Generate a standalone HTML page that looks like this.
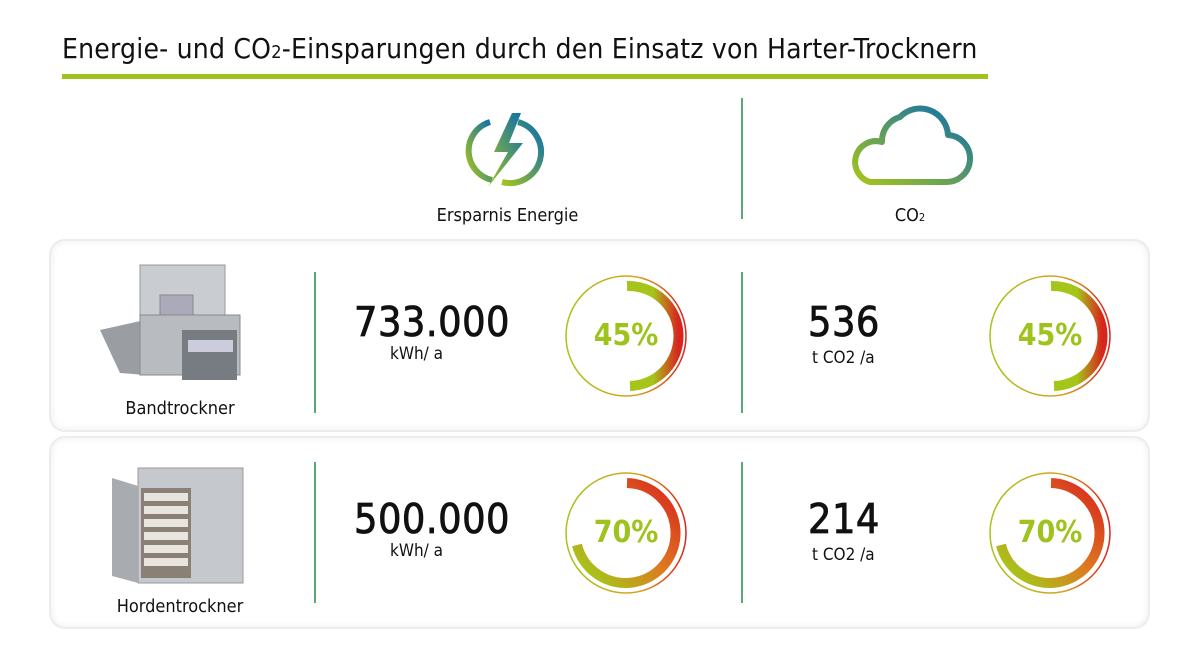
<!DOCTYPE html>
<html><head><meta charset="utf-8"><style>
body{margin:0;width:1200px;height:671px;background:#fff;font-family:"DejaVu Sans Condensed","Liberation Sans",sans-serif;position:relative;overflow:hidden;color:#111}
.a{position:absolute}
.card{position:absolute;left:51px;width:1097px;height:189px;border-radius:14px;background:#fff;box-shadow:0 0 0 2px #ececec, inset 0 0 8px #eee}
.vl{position:absolute;width:2px;background:#5aa87a}
.big{position:absolute;font-size:41px;letter-spacing:0.5px;-webkit-text-stroke:0.8px #111}
.unit{position:absolute;font-size:17px}
.lab{position:absolute;font-size:18px;text-align:center}
.pc{position:absolute;width:100px;text-align:center;font-size:30px;font-weight:bold;color:#9dc31c}
</style></head><body>
<div class="a" style="left:62px;top:32px;font-size:28px;letter-spacing:0.2px;white-space:nowrap">Energie- und CO<span style="font-size:18px">2</span>-Einsparungen durch den Einsatz von Harter-Trocknern</div>
<div class="a" style="left:62px;top:74px;width:926px;height:5px;background:#9dc31c"></div>

<div class="card" style="top:241px"></div>
<div class="card" style="top:438px"></div>

<svg class="a" style="left:0;top:0" width="1200" height="671">
<defs>
<linearGradient id="gb" x1="0" y1="1" x2="1" y2="0"><stop offset="0" stop-color="#a6c51a"/><stop offset="1" stop-color="#0a6db0"/></linearGradient>
<linearGradient id="thin" x1="0" y1="0" x2="1" y2="0"><stop offset="0" stop-color="#a6c51a"/><stop offset="0.6" stop-color="#d9a020"/><stop offset="1" stop-color="#d8241e"/></linearGradient>
<linearGradient id="g45" x1="0" y1="0" x2="1" y2="0"><stop offset="0.5" stop-color="#a6c51a"/><stop offset="1" stop-color="#d8241e"/></linearGradient>
<linearGradient id="g70" x1="0" y1="1" x2="1" y2="0"><stop offset="0.1" stop-color="#a6c51a"/><stop offset="0.5" stop-color="#de7a20"/><stop offset="1" stop-color="#d8241e"/></linearGradient>
</defs>
<path d="M490 122 A30 30 0 0 0 492 180" fill="none" stroke="url(#gb)" stroke-width="6"/>
<path d="M518 122 A30 30 0 0 1 502 182" fill="none" stroke="url(#gb)" stroke-width="6"/>
<polygon points="512,113 494,152 508,152 488,187 523,143 509,143 521,113" fill="url(#gb)"/>
<path d="M870 182 H945 A18 18 0 0 0 948 135 A28 28 0 0 0 900 117 A25 25 0 0 0 882 142 A20 20 0 0 0 870 182 Z" fill="none" stroke="url(#gb)" stroke-width="6" stroke-linejoin="round"/>
<circle cx="626" cy="336" r="60" fill="none" stroke="url(#thin)" stroke-width="1.5"/>
<path d="M627 286 A50 50 0 0 1 630 386" fill="none" stroke="url(#g45)" stroke-width="10"/>
<circle cx="1050" cy="336" r="60" fill="none" stroke="url(#thin)" stroke-width="1.5"/>
<path d="M1051 286 A50 50 0 0 1 1054 386" fill="none" stroke="url(#g45)" stroke-width="10"/>
<circle cx="626" cy="533" r="60" fill="none" stroke="url(#thin)" stroke-width="1.5"/>
<path d="M627 483 A50 50 0 1 1 577 545" fill="none" stroke="url(#g70)" stroke-width="10"/>
<circle cx="1050" cy="533" r="60" fill="none" stroke="url(#thin)" stroke-width="1.5"/>
<path d="M1051 483 A50 50 0 1 1 1001 545" fill="none" stroke="url(#g70)" stroke-width="10"/>
</svg>

<div class="lab" style="left:410px;top:205px;width:195px">Ersparnis Energie</div>
<div class="lab" style="left:860px;top:205px;width:100px">CO<span style="font-size:11px">2</span></div>
<div class="vl" style="left:741px;top:98px;height:121px"></div>

<svg class="a" style="left:100px;top:255px" width="160" height="140">
<rect x="40" y="10" width="85" height="65" fill="#c9cdd1" stroke="#999"/>
<rect x="60" y="40" width="33" height="25" fill="#aab" stroke="#888"/>
<polygon points="0,75 45,65 45,120 20,118" fill="#9a9ea3"/>
<rect x="40" y="60" width="100" height="60" fill="#b8bcc0" stroke="#888"/>
<rect x="82" y="75" width="55" height="50" fill="#777c82"/>
<rect x="88" y="85" width="45" height="12" fill="#ccd"/>
</svg>
<svg class="a" style="left:108px;top:458px" width="140" height="130">
<rect x="30" y="10" width="105" height="115" fill="#c5c9cd" stroke="#999"/>
<polygon points="4,20 30,28 30,125 4,118" fill="#a8acb0"/>
<rect x="33" y="30" width="50" height="90" fill="#8a8076"/>
<g fill="#e8e4de"><rect x="36" y="35" width="44" height="8"/><rect x="36" y="48" width="44" height="8"/><rect x="36" y="61" width="44" height="8"/><rect x="36" y="74" width="44" height="8"/><rect x="36" y="87" width="44" height="8"/><rect x="36" y="100" width="44" height="8"/></g>
</svg>
<div class="lab" style="left:100px;top:398px;width:160px">Bandtrockner</div>
<div class="lab" style="left:90px;top:596px;width:180px">Hordentrockner</div>

<div class="vl" style="left:314px;top:272px;height:141px"></div>
<div class="vl" style="left:741px;top:272px;height:141px"></div>
<div class="vl" style="left:314px;top:462px;height:141px"></div>
<div class="vl" style="left:741px;top:462px;height:141px"></div>

<div class="big" style="left:354px;top:298px">733.000</div>
<div class="unit" style="left:390px;top:344px">kWh/ a</div>
<div class="big" style="left:808px;top:298px">536</div>
<div class="unit" style="left:812px;top:348px">t CO2 /a</div>
<div class="big" style="left:354px;top:495px">500.000</div>
<div class="unit" style="left:390px;top:541px">kWh/ a</div>
<div class="big" style="left:808px;top:495px">214</div>
<div class="unit" style="left:812px;top:545px">t CO2 /a</div>

<div class="pc" style="left:576px;top:318px">45%</div>
<div class="pc" style="left:1000px;top:318px">45%</div>
<div class="pc" style="left:576px;top:515px">70%</div>
<div class="pc" style="left:1000px;top:515px">70%</div>
</body></html>
